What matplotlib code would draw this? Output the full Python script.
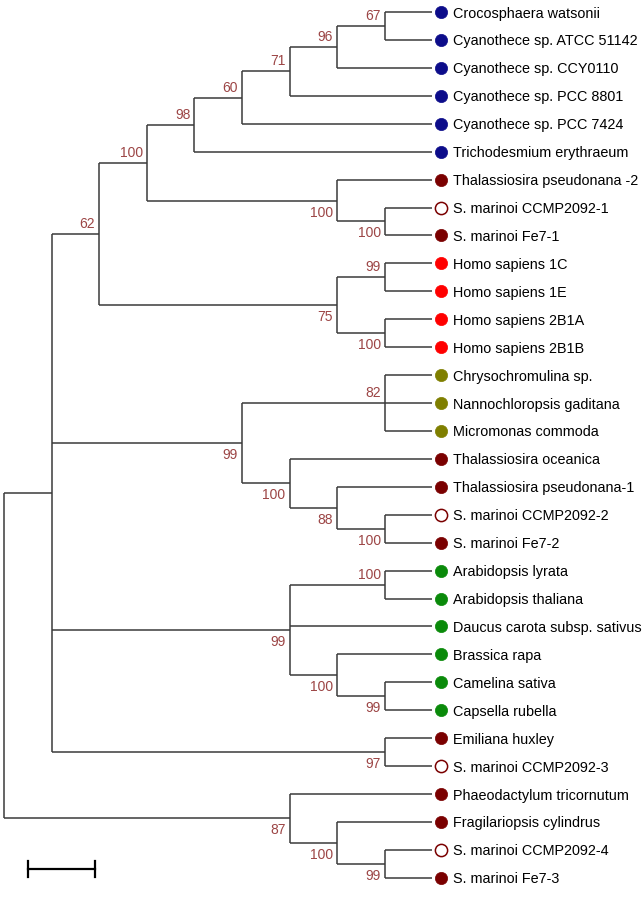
import matplotlib.pyplot as plt

plt.rcParams['font.family'] = ['Liberation Sans', 'DejaVu Sans']

# tree in newick form, bootstrap values as internal node labels
newick = ("(((((((((Crocosphaera watsonii,Cyanothece sp. ATCC 51142)67,"
          "Cyanothece sp. CCY0110)96,Cyanothece sp. PCC 8801)71,"
          "Cyanothece sp. PCC 7424)60,Trichodesmium erythraeum)98,"
          "(Thalassiosira pseudonana -2,(S. marinoi CCMP2092-1,S. marinoi Fe7-1)100)100)100,"
          "((Homo sapiens 1C,Homo sapiens 1E)99,(Homo sapiens 2B1A,Homo sapiens 2B1B)100)75)62,"
          "((Chrysochromulina sp.,Nannochloropsis gaditana,Micromonas commoda)82,"
          "(Thalassiosira oceanica,(Thalassiosira pseudonana-1,"
          "(S. marinoi CCMP2092-2,S. marinoi Fe7-2)100)88)100)99,"
          "((Arabidopsis lyrata,Arabidopsis thaliana)100,Daucus carota subsp. sativus,"
          "(Brassica rapa,(Camelina sativa,Capsella rubella)99)100)99,"
          "(Emiliana huxley,S. marinoi CCMP2092-3)97),"
          "(Phaeodactylum tricornutum,(Fragilariopsis cylindrus,"
          "(S. marinoi CCMP2092-4,S. marinoi Fe7-3)99)100)87);")

# group of every leaf, top to bottom
leaf_groups = ['cyano'] * 6 + ['diatom', 'marinoi', 'diatom'] + ['human'] * 4 + \
    ['algae'] * 3 + ['diatom', 'diatom', 'marinoi', 'diatom'] + ['plant'] * 6 + \
    ['diatom', 'marinoi', 'diatom', 'diatom', 'marinoi', 'diatom']

group_colors = {
    'cyano': '#0c0c8a',
    'diatom': '#7a0000',
    'marinoi': '#7a0000',
    'human': '#ff0000',
    'algae': '#7f7f00',
    'plant': '#0a8a0a',
}

LINE_COLOR = '#3a3a3a'
LABEL_COLOR = '#9c4545'


def parse(s, i=0):
    if s[i] == '(':
        children = []
        i += 1
        while True:
            child, i = parse(s, i)
            children.append(child)
            if s[i] == ',':
                i += 1
            else:
                i += 1
                break
        j = i
        while s[j] not in ',);':
            j += 1
        return {'children': children, 'support': s[i:j]}, j
    j = i
    while s[j] not in ',);':
        j += 1
    return {'name': s[i:j], 'children': []}, j


root, _ = parse(newick)

leaves = []


def height(node):
    if not node['children']:
        node['h'] = 0
    else:
        node['h'] = max(height(c) for c in node['children']) + 1
    return node['h']


def layout(node, top):
    node['x'] = top - node['h']
    if not node['children']:
        node['y'] = len(leaves)
        leaves.append(node)
    else:
        for c in node['children']:
            layout(c, top)
        node['y'] = (node['children'][0]['y'] + node['children'][-1]['y']) / 2


top = height(root)
layout(root, top)

W, H = 643, 897
px_x = 1 / 47.6   # levels per pixel
px_y = 1 / 27.93  # leaves per pixel

fig = plt.figure(figsize=(W / 100, H / 100), dpi=100)
ax = fig.add_axes([0, 0, 1, 1])
ax.set_xlim(-4 * px_x, (W - 4) * px_x)
ax.set_ylim((H - 12) * px_y, -12 * px_y)
ax.axis('off')


def draw(node):
    kids = node['children']
    if not kids:
        return
    ax.plot([node['x'], node['x']], [kids[0]['y'], kids[-1]['y']],
            color=LINE_COLOR, lw=1.1, solid_capstyle='butt')
    for k, c in enumerate(kids):
        ax.plot([node['x'], c['x']], [c['y'], c['y']],
                color=LINE_COLOR, lw=1.1, solid_capstyle='butt')
        if c['children'] and c['support']:
            if k == 0:
                ty = c['y'] - 6 * px_y
            else:
                ty = c['y'] + 16 * px_y
            ax.text(c['x'] - 4 * px_x, ty, c['support'], ha='right',
                    va='baseline', fontsize=10, color=LABEL_COLOR)
        draw(c)


draw(root)

for leaf, grp in zip(leaves, leaf_groups):
    col = group_colors[grp]
    face = 'white' if grp == 'marinoi' else col
    ax.plot(leaf['x'] + 9 * px_x, leaf['y'], 'o', ms=8.8, mfc=face,
            mec=col, mew=1.1 if grp == 'marinoi' else 0.5)
    ax.text(leaf['x'] + 21 * px_x, leaf['y'], leaf['name'], ha='left',
            va='center_baseline', fontsize=10.4, color='black')

# scale bar
sb_y = (869 - 12) * px_y
sb_x0, sb_x1 = (28 - 4) * px_x, (95 - 4) * px_x
ax.plot([sb_x0, sb_x1], [sb_y, sb_y], color='black', lw=1.6)
for sx in (sb_x0, sb_x1):
    ax.plot([sx, sx], [sb_y - 8 * px_y, sb_y + 8 * px_y], color='black', lw=1.6)

fig.savefig('out.png', dpi=100)
